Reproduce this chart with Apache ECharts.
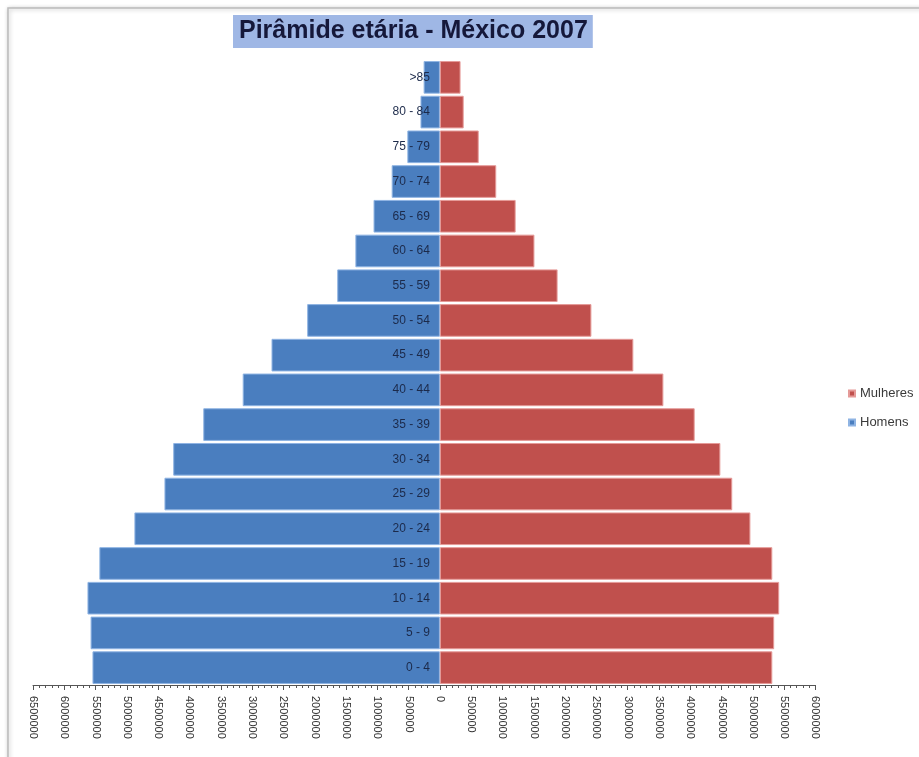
<!DOCTYPE html>
<html>
<head>
<meta charset="utf-8">
<script src="https://cdn.jsdelivr.net/npm/echarts@6/dist/echarts.min.js"></script>
<style>
html,body{margin:0;padding:0;background:#fff;}
#chart{width:919px;height:757px;}
</style>
</head>
<body>
<div id="chart"></div>
<script>
var categories = ['0 - 4','5 - 9','10 - 14','15 - 19','20 - 24','25 - 29','30 - 34','35 - 39','40 - 44','45 - 49','50 - 54','55 - 59','60 - 64','65 - 69','70 - 74','75 - 79','80 - 84','>85'];
var homens = [5550000,5580000,5630000,5440000,4880000,4400000,4260000,3780000,3150000,2690000,2120000,1640000,1350000,1060000,770000,520000,310000,260000];
var mulheres = [5310000,5340000,5420000,5310000,4960000,4670000,4480000,4070000,3570000,3090000,2420000,1880000,1510000,1210000,900000,620000,380000,330000];
var titleText = 'Pirâmide etária - México 2007';

var chart = echarts.init(document.getElementById('chart'), null, {renderer:'canvas'});
chart.setOption({
  backgroundColor:'#ffffff',
  animation:false,
  graphic:[{
    type:'rect', z:-10, silent:true,
    shape:{x:8,y:8,width:930,height:770},
    style:{fill:'#ffffff',stroke:'#bcbcbc',lineWidth:1.5,shadowBlur:4,shadowColor:'rgba(0,0,0,0.25)',shadowOffsetX:1,shadowOffsetY:1}
  }],
  title:{
    text:titleText,
    left:233, top:15,
    padding:[4,5,4,6],
    backgroundColor:'#9fb7e5',
    textStyle:{fontFamily:'Liberation Sans Narrow, Arial Narrow, sans-serif',fontSize:25,fontWeight:'bold',color:'#15183a'}
  },
  legend:{
    orient:'vertical', left:848, top:387, padding:0,
    itemWidth:6, itemHeight:6, itemGap:16,
    icon:'rect',
    data:['Mulheres','Homens'],
    textStyle:{fontSize:13,color:'#3a3a3a',fontFamily:'Liberation Sans, sans-serif'}
  },
  grid:{left:33,right:103.5,top:60,bottom:72,containLabel:false,outerBoundsMode:'none'},
  xAxis:{
    type:'value', min:-6500000, max:6000000, interval:500000,
    splitLine:{show:false},
    axisLine:{show:true,lineStyle:{color:'#555',width:1}},
    axisTick:{show:true,length:5,lineStyle:{color:'#555'}},
    minorTick:{show:true,splitNumber:5,length:3,lineStyle:{color:'#555'}},
    axisLabel:{rotate:-90,fontSize:11,color:'#333',margin:11,fontFamily:'Liberation Sans, sans-serif',formatter:function(v){return String(Math.abs(v));}}
  },
  yAxis:{
    type:'category', data:categories,
    axisLine:{show:false},
    axisTick:{show:false},
    axisLabel:{show:false}
  },
  series:[
    {name:'Homens',type:'bar',stack:'pop',barCategoryGap:'6%',
     data:homens.map(function(v){return -v;}),
     label:{show:true,position:'insideRight',distance:10,formatter:'{b}',fontSize:12,color:'#1c2a4a',fontFamily:'Liberation Sans, sans-serif'},
     labelLayout:{hideOverlap:false},
     itemStyle:{color:'#4a7ebf',borderColor:'#8fb4e3',borderWidth:1}},
    {name:'Mulheres',type:'bar',stack:'pop',barCategoryGap:'6%',
     data:mulheres,
     itemStyle:{color:'#c0504d',borderColor:'#e59a98',borderWidth:1}}
  ]
});
</script>
</body>
</html>
